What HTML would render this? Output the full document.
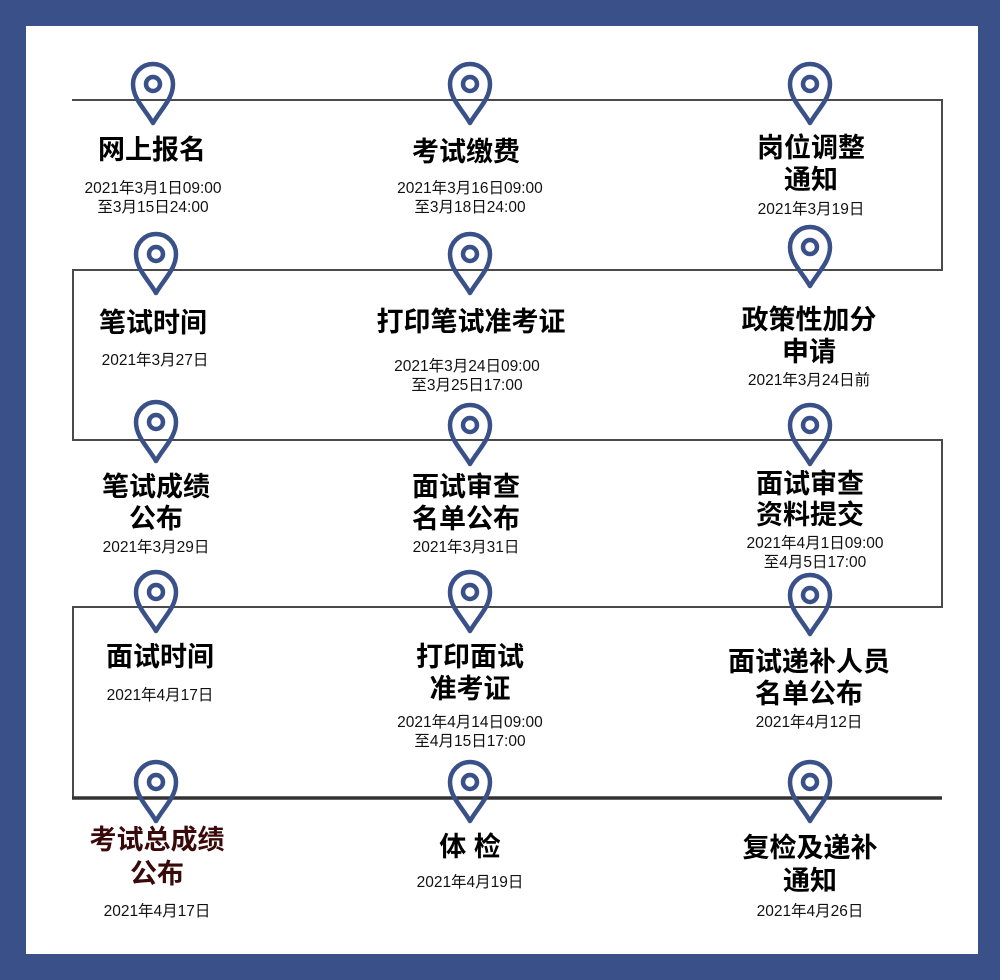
<!DOCTYPE html>
<html><head><meta charset="utf-8"><style>
body{margin:0;background:#3a5089;}
svg{display:block}
.t{font-family:"Liberation Sans","Noto Sans CJK SC",sans-serif;font-weight:bold;font-size:27px;fill:#000;text-anchor:middle}
.d{font-family:"Liberation Sans","Noto Sans CJK SC",sans-serif;font-size:15.5px;fill:#111;text-anchor:middle}
.p{fill:none;stroke:#3a5089;stroke-width:4.5}
</style></head><body>
<svg width="1000" height="980" viewBox="0 0 1000 980" xmlns="http://www.w3.org/2000/svg">
<rect x="0" y="0" width="1000" height="980" fill="#3a5089"/>
<rect x="26" y="26" width="952" height="928" fill="#fff"/>
<g stroke="#4a4a4a" stroke-width="2" fill="none">
<polyline points="72,100 942,100 942,270 73,270 73,440 942,440 942,607 73,607 73,798"/>
</g>
<line x1="72" y1="798" x2="942" y2="798" stroke="#333" stroke-width="3.5"/>
<defs>
<g id="pin"><path class="p" d="M0,61 C-8,47 -20,37 -20,22 A20,20 0 0 1 20,22 C20,37 8,47 0,61 Z" stroke-linejoin="round"/><circle class="p" cx="0" cy="22" r="7"/></g>
</defs>
<use href="#pin" x="153" y="62"/><use href="#pin" x="470" y="62"/><use href="#pin" x="810" y="62"/>
<use href="#pin" x="156" y="232"/><use href="#pin" x="470" y="232"/><use href="#pin" x="810" y="225"/>
<use href="#pin" x="156" y="400"/><use href="#pin" x="470" y="403"/><use href="#pin" x="810" y="403"/>
<use href="#pin" x="156" y="570"/><use href="#pin" x="470" y="570"/><use href="#pin" x="810" y="573"/>
<use href="#pin" x="156" y="760"/><use href="#pin" x="470" y="760"/><use href="#pin" x="810" y="760"/>

<text class="t" x="152" y="159">网上报名</text>
<text class="d" x="153" y="193">2021年3月1日09:00</text><text class="d" x="153" y="212">至3月15日24:00</text>
<text class="t" x="466" y="161">考试缴费</text>
<text class="d" x="470" y="193">2021年3月16日09:00</text><text class="d" x="470" y="212">至3月18日24:00</text>
<text class="t" x="811" y="157">岗位调整</text><text class="t" x="811" y="189">通知</text>
<text class="d" x="811" y="214">2021年3月19日</text>

<text class="t" x="153" y="332">笔试时间</text>
<text class="d" x="155" y="365">2021年3月27日</text>
<text class="t" x="471" y="331">打印笔试准考证</text>
<text class="d" x="467" y="371">2021年3月24日09:00</text><text class="d" x="467" y="390">至3月25日17:00</text>
<text class="t" x="809" y="329">政策性加分</text><text class="t" x="809" y="361">申请</text>
<text class="d" x="809" y="385">2021年3月24日前</text>

<text class="t" x="156" y="496">笔试成绩</text><text class="t" x="156" y="528">公布</text>
<text class="d" x="156" y="552">2021年3月29日</text>
<text class="t" x="466" y="496">面试审查</text><text class="t" x="466" y="528">名单公布</text>
<text class="d" x="466" y="552">2021年3月31日</text>
<text class="t" x="810" y="493">面试审查</text><text class="t" x="810" y="524">资料提交</text>
<text class="d" x="815" y="548">2021年4月1日09:00</text><text class="d" x="815" y="567">至4月5日17:00</text>

<text class="t" x="160" y="666">面试时间</text>
<text class="d" x="160" y="700">2021年4月17日</text>
<text class="t" x="470" y="666">打印面试</text><text class="t" x="470" y="698">准考证</text>
<text class="d" x="470" y="727">2021年4月14日09:00</text><text class="d" x="470" y="746">至4月15日17:00</text>
<text class="t" x="809" y="671">面试递补人员</text><text class="t" x="809" y="703">名单公布</text>
<text class="d" x="809" y="727">2021年4月12日</text>

<text class="t" x="157" y="849" style="fill:#3a0a0a">考试总成绩</text><text class="t" x="157" y="883" style="fill:#3a0a0a">公布</text>
<text class="d" x="157" y="916">2021年4月17日</text>
<text class="t" x="470" y="856">体 检</text>
<text class="d" x="470" y="887">2021年4月19日</text>
<text class="t" x="810" y="857">复检及递补</text><text class="t" x="810" y="890">通知</text>
<text class="d" x="810" y="916">2021年4月26日</text>
</svg>
</body></html>
